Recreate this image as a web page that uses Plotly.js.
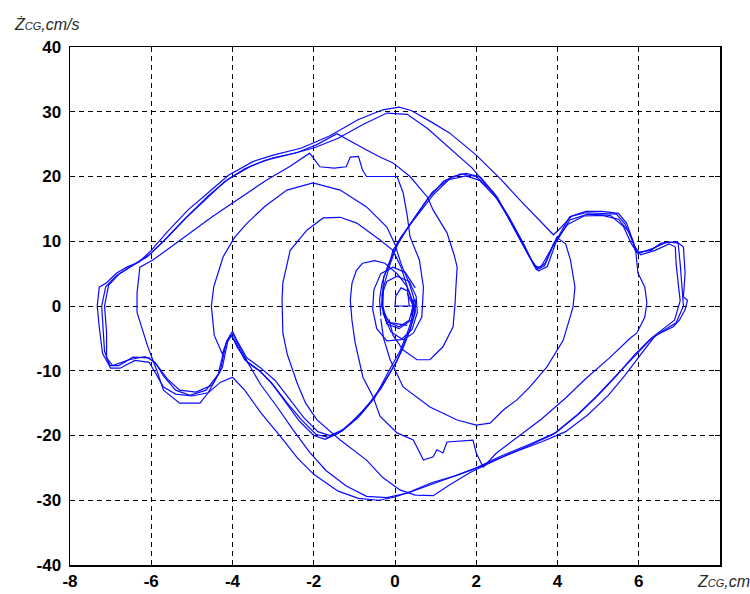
<!DOCTYPE html>
<html>
<head>
<meta charset="utf-8">
<script src="https://cdn.plot.ly/plotly-3.0.1.min.js"></script>
<style>
  html, body { margin: 0; padding: 0; background: #fff; }
  #chart { width: 750px; height: 594px; }
</style>
</head>
<body>
<div id="chart"></div>
<script>
// Phase portrait of the centre of gravity: displacement Zcg [cm] vs velocity Żcg [cm/s].
// Each path is a stretch of the trajectory, listed as [z, ż] pairs.

// start-up spiral around the origin
const spiralPath = [
  [0.5,0],[0,0],[0.02,1.5],[0.15,2.8],[0.35,2.2],[0.45,0],[0.35,-2.2],[0.1,-3.2],[-0.15,-2.5],
  [-0.3,-0.5],[-0.32,1.8],[-0.2,3.8],[0.05,4.6],[0.35,3.8],[0.52,1.5],[0.55,-1],[0.42,-3.6],
  [0.15,-5.2],[-0.2,-5.4],[-0.45,-3.5],[-0.55,-0.5],[-0.52,2.5],[-0.35,5.0],[-0.05,6.0],
  [0.25,5.2],[0.5,2.8]
];

// outermost cycle
const outerPath = [
  [-7.28,-3.2],[-7.33,0],[-7.28,2.9],[-7.1,3.6],[-6.85,5.1],[-6.6,6.0],[-6.3,6.8],[-6.0,8.6],
  [-5.6,11.5],[-5.1,14.8],[-4.6,17.5],[-4.1,20.2],[-3.5,22.3],[-3.0,23.3],[-2.3,24.4],
  [-1.6,26.3],[-0.9,28.8],[-0.3,30.3],[0.1,30.7],[0.4,30.2],[0.9,28.4],[1.35,26.7],[2.0,23.3],
  [2.6,19.6],[3.1,16.2],[3.5,13.6],[3.9,11.0],[4.1,12.2],[4.35,13.9],[4.7,14.6],[5.1,14.6],
  [5.5,14.3],[5.7,12.8],[5.85,10.2],[5.95,8.3],[6.3,8.6],[6.55,9.7],[6.94,9.9],[7.1,9.1],
  [7.14,5.1],[7.1,1.4],[7.2,0.9],[7.14,-0.6],[7.0,-2.2],[6.85,-3.2],[6.4,-4.6],[6.05,-7.5],
  [5.65,-10.8],[5.25,-13.8],[4.75,-16.8],[4.2,-19.4],[3.6,-21.0],[2.8,-22.9],[2.1,-24.8],
  [1.5,-26.2],[0.9,-27.3],[0.4,-28.6],[0.0,-29.5],[-0.4,-30.0],[-0.9,-29.7],[-1.4,-28.6],
  [-2.0,-26.0],[-2.4,-23.5],[-2.8,-20.3],[-3.3,-16.5],[-3.7,-13.0],[-4.0,-11.0],[-4.3,-11.8],
  [-4.6,-13.4],[-5.0,-13.9],[-5.4,-13.6],[-5.7,-12.5],[-5.9,-10.3],[-6.05,-8.7],[-6.4,-8.4],
  [-6.77,-9.6],[-7.0,-9.6],[-7.2,-7.3],[-7.28,-3.2]
];

// cycle through both notches
const notchPath = [
  [-7.18,-4],[-7.22,0],[-7.12,3],[-6.85,4.7],[-6.5,6.1],[-6.1,7.6],[-5.7,10],[-5.2,13.3],
  [-4.7,16.2],[-4.2,19.2],[-3.7,21.2],[-3.2,22.5],[-2.6,23.4],[-2.0,24.4],[-1.4,25.9],
  [-0.8,28.0],[-0.2,29.8],[0.3,29.6],[0.8,27.4],[1.3,24.6],[1.9,21.3],[2.4,17.6],[2.8,13.6],
  [3.1,10.2],[3.35,7.2],[3.5,5.8],[3.7,6.6],[3.9,9.6],[4.25,12.6],[4.65,13.9],[5.1,14.0],
  [5.5,13.4],[5.75,11.5],[5.9,9.2],[6.05,7.9],[6.4,8.6],[6.75,9.6],[6.9,9.1],[6.92,6.5],
  [6.98,3],[7.02,0.8],[6.88,-2.2],[6.6,-3.6],[6.3,-5.0],[5.9,-7.5],[5.45,-10.8],[5.0,-13.8],
  [4.5,-16.8],[3.95,-19.6],[3.3,-21.4],[2.6,-23.2],[2.0,-25.0],[1.4,-26.4],[0.8,-27.8],
  [0.3,-28.9],[-0.2,-29.6],[-0.7,-29.4],[-1.2,-27.8],[-1.7,-25.4],[-2.1,-22.6],[-2.5,-19.2],
  [-2.9,-15.6],[-3.3,-12.2],[-3.6,-9.0],[-3.85,-6.0],[-4.0,-4.3],[-4.12,-5.5],[-4.25,-9.5],
  [-4.5,-12.2],[-4.9,-13.3],[-5.3,-13.0],[-5.6,-11.3],[-5.85,-9.2],[-6.05,-8.0],[-6.45,-7.9],
  [-6.8,-9.2],[-7.02,-9.2],[-7.15,-7],[-7.18,-4]
];

// centre -> lower V -> left loop -> centre -> upper arch -> right loop -> centre
const swingPathA = [
  [0.3,2],[0.45,0],[0.42,-2],[0.3,-4.2],[0.12,-7],[-0.15,-10],[-0.5,-14.2],[-0.9,-17.2],
  [-1.3,-19.3],[-1.65,-20.3],[-1.95,-19.8],[-2.3,-17.6],[-2.65,-15],[-3.0,-12.2],[-3.3,-10.2],
  [-3.62,-8.8],[-3.88,-6.4],[-4.02,-4.6],[-4.12,-5.2],[-4.25,-7.4],[-4.45,-4.5],[-4.52,0],
  [-4.46,3],[-4.23,7.6],[-3.95,10.6],[-3.64,12.8],[-3.2,15.4],[-2.66,17.9],[-2.02,19.0],
  [-1.35,17.9],[-0.7,15.3],[-0.2,12.2],[0.0,9.5],[0.15,6.5],[0.35,3.5],[0.5,0.5],[0.4,-2.2],
  [0.1,-3.5],[-0.2,-2.8],[-0.33,0],[-0.3,2.5],[-0.28,4.5],[-0.15,6.2],[-0.05,8.6],[0.15,10.7],
  [0.4,12.8],[0.96,17.3],[1.32,19.5],[1.75,20.1],[2.08,19.4],[2.55,16.3],[2.95,11.9],
  [3.32,7.5],[3.48,5.6],[3.68,6.2],[3.98,10.6],[4.2,9.6],[4.32,7.1],[4.43,2.9],[4.38,-0.2],
  [4.14,-5.3],[3.74,-9.4],[3.32,-12.5],[3.0,-14.5],[2.66,-16.1],[2.34,-18.1],[2.0,-18.4],
  [1.53,-17.6],[0.86,-15.6],[0.2,-12.5],[-0.12,-8.3],[-0.28,-5],[-0.35,-2]
];

// centre -> lower V -> deep left valley -> inner left lobe -> top ripples -> centre
const swingPathB = [
  [0.5,1],[0.5,-1],[0.36,-3.8],[0.2,-6.5],[0.0,-9],[-0.35,-12.8],[-0.8,-16.3],[-1.25,-19.0],
  [-1.6,-20.0],[-1.9,-19.4],[-2.25,-17.2],[-2.6,-14.3],[-2.95,-11.5],[-3.3,-9.6],[-3.65,-8.0],
  [-3.9,-5.2],[-4.0,-3.9],[-4.15,-5.5],[-4.3,-10],[-4.6,-13.4],[-4.8,-15],[-5.3,-15],
  [-5.7,-13],[-5.86,-10],[-6.1,-6],[-6.35,-1],[-6.35,2],[-6.28,6],[-5.96,7.1],[-5.5,9.2],
  [-5.05,11.3],[-4.5,13.8],[-4.0,15.9],[-3.5,18.0],[-3.15,19.5],[-2.6,21.5],[-2.1,23.6],
  [-1.85,21.5],[-1.5,21.3],[-1.2,21.5],[-1.1,23],[-0.9,23.1],[-0.8,21],[-0.7,20],[0.05,20],
  [0.2,17.5],[0.3,14],[0.37,10.7],[0.6,7.1],[0.7,2.9],[0.66,-1.7],[0.45,-4.2],[0.2,-5.2],
  [-0.1,-4],[-0.3,-1]
];

// centre -> upper arch -> inner right lobe -> bottom ripples -> centre
const swingPathC = [
  [-0.35,-1.5],[-0.38,1],[-0.32,3.5],[-0.18,6.2],[0.02,9],[0.3,12],[0.8,16.5],[1.2,19.3],
  [1.62,20.4],[2.0,20.0],[2.42,17.6],[2.8,13.8],[3.15,9.8],[3.42,6.3],[3.58,5.9],[3.82,8.6],
  [4.3,13.8],[4.7,14.4],[5.45,14.2],[5.66,12.7],[5.84,10.2],[5.93,8.2],[5.98,5.1],[6.15,2.9],
  [6.2,0.5],[6.15,-1.7],[5.95,-4.2],[5.8,-4.9],[5.3,-7.9],[4.7,-11.2],[4.2,-14.2],[3.6,-17.5],
  [3.0,-20.4],[2.5,-22.7],[2.17,-24.9],[2.0,-22.7],[1.92,-20.7],[1.28,-21],[1.18,-22.7],
  [1.03,-22.2],[0.94,-23.3],[0.7,-23.8],[0.45,-20.7],[0.05,-19.6],[-0.37,-17],[-0.54,-14],
  [-0.79,-11],[-0.9,-8],[-0.98,-5.7],[-1.06,-2.2],[-1.1,0.9],[-1.06,3.5],[-0.95,5.5],
  [-0.8,6.6],[-0.5,7.0],[-0.25,6.6],[0.05,5],[0.3,3],[0.45,0.5],[0.4,-1.5]
];

// centre -> upper arch -> outer right lobe -> bottom -> left arc -> centre
const swingPathD = [
  [0.3,-3],[-0.2,-2.5],[-0.3,0],[-0.28,3],[-0.12,6.5],[0.08,9.8],[0.5,13.8],[0.92,17.6],
  [1.38,19.9],[1.75,20.5],[2.1,19.9],[2.52,16.8],[2.9,12.3],[3.28,7.9],[3.53,5.4],[3.75,6.1],
  [3.96,9.8],[4.3,13.3],[4.75,14.2],[5.3,14.0],[5.62,12.3],[5.82,9.6],[5.98,8.1],[6.35,8.9],
  [6.7,9.9],[6.97,9.7],[7.02,6.5],[7.08,2.5],[7.1,0],[6.92,-2.6],[6.55,-4],[6.25,-5.4],
  [5.85,-8],[5.4,-11],[4.95,-14],[4.45,-17],[3.9,-19.8],[3.25,-21.7],[2.55,-23.6],
  [1.85,-25.7],[1.35,-27.6],[0.94,-29.3],[0.5,-29.2],[0.12,-28.4],[-0.3,-26.5],[-0.7,-23.8],
  [-1.35,-20.7],[-1.92,-17.6],[-2.2,-15],[-2.41,-11.9],[-2.65,-7.5],[-2.76,-4.2],[-2.78,0.9],
  [-2.76,3.6],[-2.58,8.6],[-2.17,11.7],[-1.77,13.6],[-1.35,13.7],[-0.94,12.8],[-0.37,10.2],
  [-0.05,8.6],[0.15,6],[0.3,3],[0.35,0]
];

// centre -> lower V -> outer left lobe -> top band -> right arc -> centre
const swingPathE = [
  [0.45,1],[0.48,-1],[0.38,-3.5],[0.22,-6],[0.05,-8.5],[-0.25,-11.6],[-0.6,-14.8],[-1.0,-17.6],
  [-1.4,-19.7],[-1.72,-20.6],[-2.0,-20],[-2.35,-17.8],[-2.7,-14.8],[-3.05,-11.8],[-3.35,-9.9],
  [-3.7,-8.3],[-3.92,-5.6],[-4.05,-4.4],[-4.2,-6.5],[-4.35,-10.5],[-4.65,-13],[-5.05,-13.8],
  [-5.4,-13],[-5.7,-10.8],[-5.9,-8.7],[-6.15,-7.8],[-6.55,-8.3],[-6.95,-9.2],[-7.1,-8],
  [-7.1,-4],[-7.15,0],[-7.05,3.2],[-6.8,4.9],[-6.45,6.3],[-6.05,7.9],[-5.6,10.6],[-5.1,13.9],
  [-4.6,17.0],[-4.1,19.6],[-3.55,21.6],[-3.0,22.9],[-2.4,23.7],[-1.9,25.0],[-1.43,26.6],
  [-1.0,25.2],[-0.7,24.1],[-0.37,23],[-0.05,22.1],[0.37,20],[0.8,16.8],[0.94,14.8],
  [1.15,12.5],[1.28,11.3],[1.45,8],[1.53,6],[1.5,3],[1.48,0.5],[1.43,-3.2],[1.18,-6.3],
  [0.86,-8.3],[0.54,-8.3],[0.2,-6.8],[-0.05,-4.5],[-0.15,-2]
];

const trajectory = [spiralPath, outerPath, notchPath, swingPathA, swingPathB,
                    swingPathC, swingPathD, swingPathE];

// axis ticks
const xTickVals = [-8, -6, -4, -2, 0, 2, 4, 6];
const xTickText = ['-8', '-6', '-4', '-2', '0', '2', '4', '6'];
const yTickVals = [-40, -30, -20, -10, 0, 10, 20, 30, 40];
const yTickText = ['-40', '-30', '-20', '-10', '0', '10', '20', '30', '40'];

const traces = trajectory.map(path => ({
  type: 'scatter',
  mode: 'lines',
  x: path.map(p => p[0]),
  y: path.map(p => p[1]),
  line: { color: '#0a0aff', width: 1.2 },
  hoverinfo: 'skip'
}));

const tickFont = { family: 'Liberation Sans, Arial, sans-serif', size: 17, color: '#000', weight: 'bold' };

const axisCommon = {
  showgrid: true,
  gridcolor: '#000',
  gridwidth: 1,
  griddash: '5px,4px',
  zeroline: false,
  showline: true,
  linecolor: '#000',
  linewidth: 1.5,
  mirror: 'ticks',
  ticks: 'inside',
  ticklen: 5,
  tickwidth: 1,
  tickcolor: '#000',
  tickfont: tickFont,
  fixedrange: true
};

const layout = {
  width: 750,
  height: 594,
  margin: { l: 70, r: 30, t: 47, b: 29 },
  paper_bgcolor: '#fff',
  plot_bgcolor: '#fff',
  showlegend: false,
  xaxis: Object.assign({}, axisCommon, {
    range: [-8, 8],
    tickmode: 'array',
    tickvals: xTickVals,
    ticktext: xTickText,
    ticklabelstandoff: 0
  }),
  yaxis: Object.assign({}, axisCommon, {
    range: [-40, 40],
    tickmode: 'array',
    tickvals: yTickVals,
    ticktext: yTickText,
    ticklabelstandoff: 4
  }),
  annotations: [
    {
      xref: 'paper', yref: 'paper',
      x: 0.961, y: -0.031,
      xanchor: 'left', yanchor: 'middle',
      showarrow: false,
      text: '<i>Z<span style="font-size:11px">CG</span>,cm</i>',
      font: { family: 'Liberation Sans, Arial, sans-serif', size: 16, color: '#2a2a2a' }
    },
    {
      xref: 'paper', yref: 'paper',
      x: -0.089, y: 1.045,
      xanchor: 'left', yanchor: 'middle',
      showarrow: false,
      text: '<i>Ż<span style="font-size:11px">CG</span>,cm/s</i>',
      font: { family: 'Liberation Sans, Arial, sans-serif', size: 16, color: '#2a2a2a' }
    }
  ]
};

Plotly.newPlot('chart', traces, layout, { displayModeBar: false, staticPlot: true });
</script>
</body>
</html>
